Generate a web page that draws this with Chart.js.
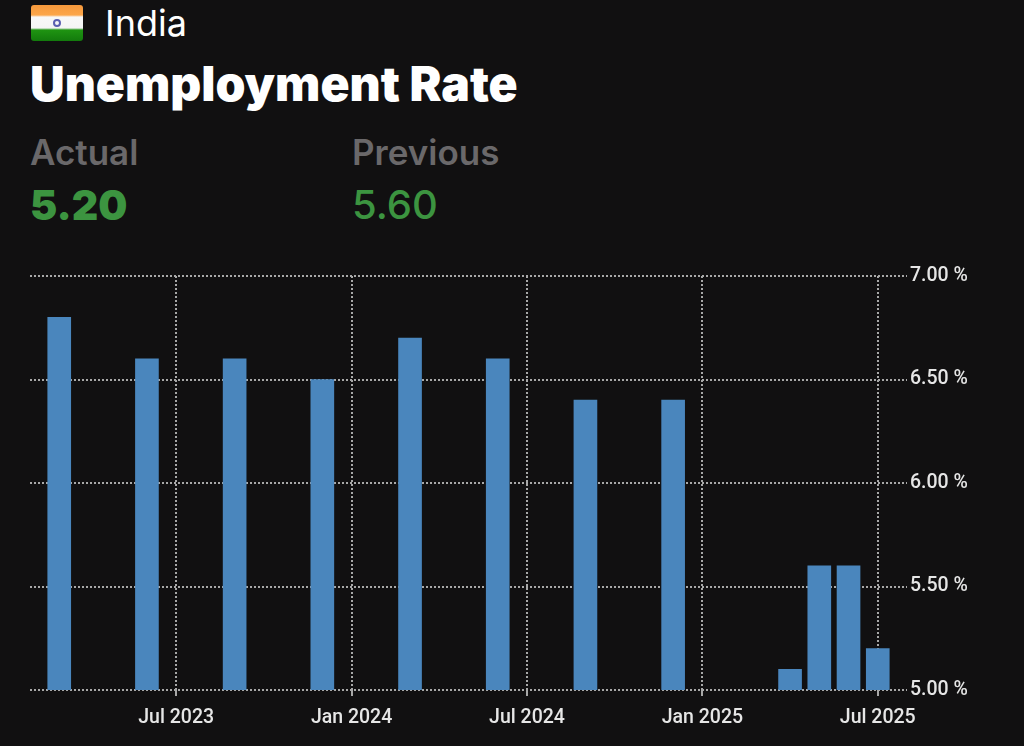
<!DOCTYPE html>
<html>
<head>
<meta charset="utf-8">
<script src="https://cdn.jsdelivr.net/npm/chart.js@4"></script>
<style>
html,body{margin:0;padding:0;background:#111011;width:1024px;height:746px;overflow:hidden}
#wrap{position:relative;width:1024px;height:746px;font-family:Inter,sans-serif}
canvas{position:absolute;left:0;top:0}
.t{position:absolute;white-space:nowrap;line-height:1}
#flag{position:absolute;left:31px;top:5px;width:52px;height:36px;border-radius:3px;overflow:hidden;
background:linear-gradient(#f6993c 0,#fca64a 10px,#f8f8f8 12px,#f4f4f4 23px,#1f9412 25px,#137a0c 36px)}
#chakra{position:absolute;left:22px;top:14px;width:4px;height:4px;border:2px solid #5a5fb0;border-radius:50%;box-sizing:content-box}
</style>
</head>
<body>
<div id="wrap">
<div id="flag"><div id="chakra"></div></div>
<div class="t" style="left:105px;top:5px;font-size:36px;color:#fff;font-weight:400">India</div>
<div class="t" style="left:30px;top:60px;font-size:48px;color:#fff;font-weight:900">Unemployment Rate</div>
<div class="t" style="left:30px;top:135px;font-size:35px;color:#6a686a;font-weight:600">Actual</div>
<div class="t" style="left:352px;top:135px;font-size:35px;color:#6a686a;font-weight:600">Previous</div>
<div class="t" style="left:30px;top:185px;font-size:41px;color:#3c9440;font-weight:900">5.20</div>
<div class="t" style="left:352px;top:185px;font-size:40px;color:#3c9440;font-weight:500">5.60</div>
<canvas id="c" width="1024" height="746"></canvas>
</div>
<script>
const months = ["Feb 2023","Mar 2023","Apr 2023","May 2023","Jun 2023","Jul 2023","Aug 2023","Sep 2023","Oct 2023","Nov 2023","Dec 2023","Jan 2024","Feb 2024","Mar 2024","Apr 2024","May 2024","Jun 2024","Jul 2024","Aug 2024","Sep 2024","Oct 2024","Nov 2024","Dec 2024","Jan 2025","Feb 2025","Mar 2025","Apr 2025","May 2025","Jun 2025","Jul 2025","Aug 2025"];
const rates = [null,6.8,null,null,6.6,null,null,6.6,null,null,6.5,null,null,6.7,null,null,6.6,null,null,6.4,null,null,6.4,null,null,null,5.1,5.6,5.6,5.2,null];
const xTickLabels = ["Jul 2023","Jan 2024","Jul 2024","Jan 2025","Jul 2025"];
const yTicks = [5,5.5,6,6.5,7];
const tickFont = {family:"Roboto",size:19.5,weight:'500'};
new Chart(document.getElementById('c'),{
  type:'bar',
  data:{labels:months,datasets:[{data:rates,backgroundColor:'#4a86bd',barThickness:23,borderWidth:0}]},
  options:{
    responsive:false,animation:false,devicePixelRatio:1,
    layout:{padding:{left:30,top:276,right:0,bottom:0}},
    plugins:{legend:{display:false},tooltip:{enabled:false},title:{display:false}},
    scales:{
      x:{
        offset:false,
        grid:{offset:false,color:'#a8a8a8',lineWidth:2,drawTicks:true,tickLength:6,tickColor:'#a8a8a8'},
        border:{display:false,dash:[2,2]},
        afterBuildTicks(ax){ax.ticks=xTickLabels.map(l=>({value:months.indexOf(l)}));},
        afterFit(ax){ax.height=56;},
        ticks:{autoSkip:false,maxRotation:0,color:'#e6e6e6',font:tickFont,padding:10,
          callback(v){return months[v];}}
      },
      y:{
        position:'right',min:5,max:7,
        grid:{color:'#a8a8a8',lineWidth:2,drawTicks:false},
        border:{display:false,dash:[2,2]},
        afterBuildTicks(ax){ax.ticks=yTicks.map(v=>({value:v}));},
        afterFit(ax){ax.width=117;},
        ticks:{color:'#e6e6e6',font:tickFont,padding:3,callback(v){return v.toFixed(2)+' %';}}
      }
    }
  }
});
</script>
</body>
</html>
